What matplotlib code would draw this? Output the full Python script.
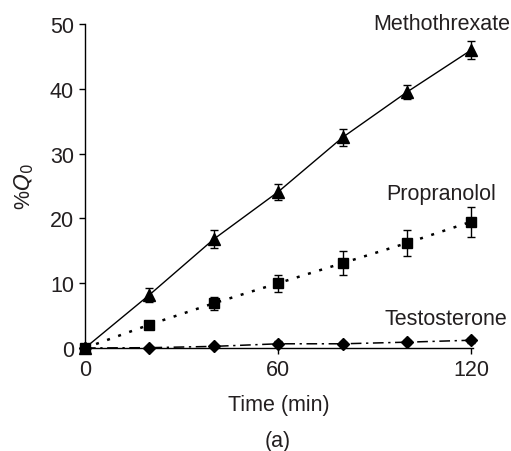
import matplotlib
matplotlib.use("Agg")
import matplotlib.pyplot as plt

# data
time_min = [0, 20, 40, 60, 80, 100, 120]

metho = [0, 8.2, 16.8, 24.1, 32.5, 39.5, 46.0]
metho_err = [0, 1.1, 1.4, 1.2, 1.3, 1.1, 1.4]

propra = [0, 3.6, 6.9, 10.0, 13.1, 16.2, 19.5]
propra_err = [0, 0.5, 1.0, 1.3, 1.9, 2.0, 2.3]

testo = [0, 0.05, 0.25, 0.65, 0.65, 0.9, 1.2]
testo_err = [0, 0.15, 0.15, 0.4, 0.3, 0.3, 0.4]

labels = ["Methothrexate", "Propranolol", "Testosterone"]

plt.rcParams['font.family'] = ['Liberation Sans', 'DejaVu Sans']
txt_col = "#231f20"
fs = 15.5

fig = plt.figure(figsize=(5.11, 4.52), dpi=100)
ax = fig.add_axes([85 / 511, 1 - 349 / 452, 388 / 511, 324 / 452])

ebkw = dict(color="black", ecolor="black", elinewidth=1.0, capsize=2.8,
            capthick=1.0, clip_on=False, markeredgecolor="black",
            markerfacecolor="black")

ax.errorbar(time_min, testo, yerr=testo_err, marker="D", markersize=6.5,
            linestyle=(0, (7, 3, 1.5, 3)), linewidth=1.1, **ebkw)
ax.errorbar(time_min, metho, yerr=metho_err, marker="^", markersize=8,
            linestyle="-", linewidth=1.0, **ebkw)
ax.errorbar(time_min, propra, yerr=propra_err, marker="s", markersize=6.5,
            linestyle=(0, (1.2, 3.5)), linewidth=1.8, **ebkw)

ax.set_xlim(0, 120.5)
ax.set_ylim(0, 50)
ax.set_xticks([0, 60, 120])
ax.set_yticks([0, 10, 20, 30, 40, 50])

for s in ["top", "right"]:
    ax.spines[s].set_visible(False)
for s in ["left", "bottom"]:
    ax.spines[s].set_linewidth(1.0)
    ax.spines[s].set_color("black")

ax.tick_params(direction="out", length=4, width=1.0, labelsize=fs,
               labelcolor=txt_col, pad=4)

ax.set_xlabel("Time (min)", fontsize=fs, color=txt_col, labelpad=10)
ax.set_ylabel(r"%$\mathit{Q}_0$", fontsize=fs, color=txt_col, labelpad=10)

ax.text(110.8, 50.1, labels[0], fontsize=fs, color=txt_col,
        ha="center", va="center", clip_on=False)
ax.text(110.5, 23.8, labels[1], fontsize=fs, color=txt_col,
        ha="center", va="center", clip_on=False)
ax.text(112, 4.5, labels[2], fontsize=fs, color=txt_col,
        ha="center", va="center", clip_on=False)

fig.text(278 / 511, 1 - 442 / 452, "(a)", fontsize=fs, color=txt_col,
         ha="center", va="center")

fig.savefig("out.png", dpi=100)
